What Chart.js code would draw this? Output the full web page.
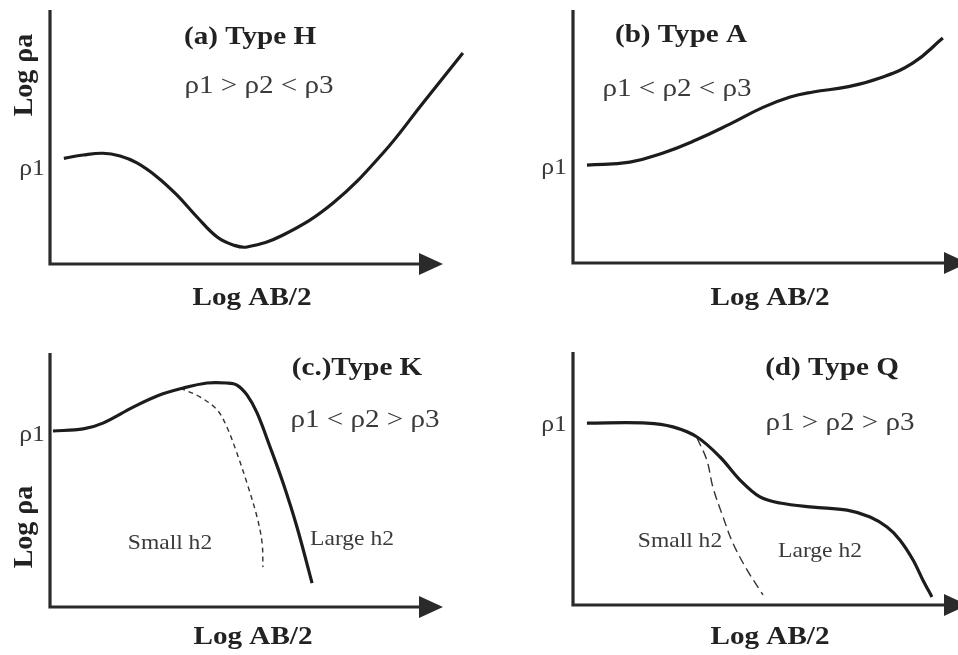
<!DOCTYPE html>
<html><head><meta charset="utf-8">
<script src="https://cdn.jsdelivr.net/npm/chart.js@4/dist/chart.umd.min.js"></script>
<style>
body{margin:0;background:#fff;width:958px;height:655px;position:relative;overflow:hidden}
canvas{position:absolute}
</style></head>
<body>
<canvas id="ca" width="479" height="327" style="left:0;top:0"></canvas>
<canvas id="cb" width="478" height="327" style="left:480px;top:0"></canvas>
<canvas id="cc" width="479" height="325" style="left:0;top:330px"></canvas>
<canvas id="cd" width="478" height="325" style="left:480px;top:330px"></canvas>
<script>
// ---- Data (arbitrary log units, 0..100 on both axes) ----
const typeH_x = [3.3, 7.9, 12.6, 16.7, 20.7, 25.5, 30.2, 35.0, 39.8, 43.6, 46.9, 55.5, 67.4, 79.3, 88.8, 98.3];
const typeH_y = [41.6, 42.9, 43.6, 42.5, 39.8, 34.3, 27.2, 18.5, 10.6, 7.5, 6.7, 11.4, 24.0, 43.7, 63.4, 83.1];

const typeA_x = [3.7, 15.1, 23.9, 32.9, 41.6, 50.4, 57.6, 63.7, 72.7, 81.4, 90.2, 98.1];
const typeA_y = [38.7, 39.9, 43.5, 48.8, 54.9, 61.5, 65.6, 67.6, 69.6, 73.1, 79.1, 88.9];

const typeK_large_x = [0.7, 7.9, 12.6, 19.8, 25.5, 31.7, 37.4, 42.1, 44.5, 46.9, 49.3, 52.4, 55.5, 58.8, 62.4];
const typeK_large_y = [69.3, 70.1, 72.4, 78.7, 83.1, 86.2, 88.2, 88.2, 87.4, 83.5, 76.4, 63.0, 48.8, 31.5, 9.4];
const typeK_small_x = [31.0, 35.7, 39.8, 42.1, 44.5, 46.9, 49.3, 50.5, 50.7];
const typeK_small_y = [86.2, 82.7, 77.6, 70.9, 60.6, 48.8, 35.4, 25.2, 15.7];

const typeQ_large_x = [3.7, 19.6, 26.5, 32.9, 39.0, 44.3, 49.6, 54.9, 63.7, 72.7, 78.8, 83.3, 86.7, 90.2, 92.8, 95.2];
const typeQ_large_y = [71.9, 71.9, 70.4, 66.4, 58.5, 49.4, 42.7, 40.3, 38.7, 37.5, 34.8, 30.8, 25.7, 17.8, 9.9, 3.2];
const typeQ_small_x = [32.9, 35.5, 37.1, 39.8, 42.4, 46.2, 50.4];
const typeQ_small_y = [66.0, 57.3, 46.6, 34.8, 24.5, 13.8, 4.0];

const titles = ['(a) Type H', '(b) Type A', '(c.)Type K', '(d) Type Q'];
const relations = ['ρ1 > ρ2 < ρ3', 'ρ1 < ρ2 < ρ3', 'ρ1 < ρ2 > ρ3', 'ρ1 > ρ2 > ρ3'];
const xTitle = 'Log AB/2';
const yTitle = 'Log ρa';
const levelLabel = 'ρ1';
const smallLabel = 'Small h2';
const largeLabel = 'Large h2';

function pts(xs, ys) { return xs.map((x, i) => ({ x: x, y: ys[i] })); }

const INK = '#222';
const GREY = '#3a3a3a';
const F = '"Liberation Serif", "Times New Roman", serif';
const SX = 1.12;

const decor = {
  id: 'decor',
  beforeDatasetsDraw(chart) {
    const o = chart.options.plugins.decor, a = chart.chartArea, ctx = chart.ctx;
    ctx.save();
    ctx.strokeStyle = '#2a2a2a'; ctx.fillStyle = '#2a2a2a';
    ctx.lineWidth = 3.2; ctx.lineJoin = 'miter';
    ctx.beginPath();
    ctx.moveTo(a.left, a.top);
    ctx.lineTo(a.left, a.bottom);
    ctx.lineTo(o.tip - 18, a.bottom);
    ctx.stroke();
    ctx.beginPath();
    ctx.moveTo(o.tip, a.bottom);
    ctx.lineTo(o.tip - 24, a.bottom - 11);
    ctx.lineTo(o.tip - 24, a.bottom + 11);
    ctx.closePath(); ctx.fill();
    ctx.restore();
  },
  afterDraw(chart) {
    const o = chart.options.plugins.decor, ctx = chart.ctx;
    o.texts.forEach(t => {
      ctx.save();
      ctx.font = t.font; ctx.fillStyle = t.color || INK;
      ctx.textAlign = t.align || 'center'; ctx.textBaseline = t.base || 'alphabetic';
      ctx.translate(t.x, t.y);
      if (t.rot) ctx.rotate(t.rot); else ctx.scale(SX, 1);
      ctx.fillText(t.t, 0, 0);
      ctx.restore();
    });
  }
};

function solid(data, tension) {
  return { data: data, showLine: true, borderColor: '#1c1c1c', borderWidth: 3.2, pointRadius: 0,
           tension: tension || 0.35, fill: false, borderCapStyle: 'butt' };
}
function dashed(data, dash) {
  return { data: data, showLine: true, borderColor: '#333', borderWidth: 1.4, borderDash: dash, pointRadius: 0,
           tension: 0.35, fill: false };
}

function makeChart(id, w, h, area, datasets, tip, texts) {
  new Chart(document.getElementById(id), {
    type: 'scatter',
    data: { datasets: datasets },
    options: {
      responsive: false, animation: false, events: [],
      layout: { padding: { left: area.l, top: area.t, right: w - area.r, bottom: h - area.b } },
      scales: {
        x: { type: 'linear', min: 0, max: 100, display: false },
        y: { type: 'linear', min: 0, max: 100, display: false }
      },
      plugins: { legend: { display: false }, tooltip: { enabled: false }, decor: { tip: tip, texts: texts } }
    },
    plugins: [decor]
  });
}

const titleFont = 'bold 26px ' + F;
const relFont = '26px ' + F;
const axFont = 'bold 26px ' + F;
const yFont = 'bold 28px ' + F;
const rhoFont = '23px ' + F;
const smallFont = '21px ' + F;

makeChart('ca', 479, 327, { l: 50, t: 10, r: 470, b: 264 }, [solid(pts(typeH_x, typeH_y), 0.4)], 443, [
  { t: titles[0], x: 250, y: 44, font: titleFont },
  { t: relations[0], x: 259, y: 93, font: relFont, color: GREY },
  { t: xTitle, x: 252, y: 305, font: axFont },
  { t: yTitle, x: 25, y: 75, font: yFont, rot: -Math.PI / 2, base: 'middle' },
  { t: levelLabel, x: 45, y: 175, font: rhoFont, align: 'right', color: GREY }
]);

makeChart('cb', 478, 327, { l: 93, t: 10, r: 470, b: 263 }, [solid(pts(typeA_x, typeA_y), 0.45)], 488, [
  { t: titles[1], x: 201, y: 42, font: titleFont },
  { t: relations[1], x: 197, y: 96, font: relFont, color: GREY },
  { t: xTitle, x: 290, y: 305, font: axFont },
  { t: levelLabel, x: 87, y: 174, font: rhoFont, align: 'right', color: GREY }
]);

makeChart('cc', 479, 325, { l: 50, t: 23, r: 470, b: 277 }, [
  solid(pts(typeK_large_x, typeK_large_y)),
  dashed(pts(typeK_small_x, typeK_small_y), [5, 4])
], 443, [
  { t: titles[2], x: 357, y: 45, font: titleFont },
  { t: relations[2], x: 365, y: 97, font: relFont, color: GREY },
  { t: smallLabel, x: 170, y: 219, font: smallFont, color: GREY },
  { t: largeLabel, x: 352, y: 215, font: smallFont, color: GREY },
  { t: xTitle, x: 253, y: 314, font: axFont },
  { t: yTitle, x: 25, y: 197, font: yFont, rot: -Math.PI / 2, base: 'middle' },
  { t: levelLabel, x: 45, y: 111, font: rhoFont, align: 'right', color: GREY }
]);

makeChart('cd', 478, 325, { l: 93, t: 22, r: 470, b: 275 }, [
  solid(pts(typeQ_large_x, typeQ_large_y)),
  dashed(pts(typeQ_small_x, typeQ_small_y), [9, 5])
], 488, [
  { t: titles[3], x: 352, y: 45, font: titleFont },
  { t: relations[3], x: 360, y: 100, font: relFont, color: GREY },
  { t: smallLabel, x: 200, y: 217, font: smallFont, color: GREY },
  { t: largeLabel, x: 340, y: 227, font: smallFont, color: GREY },
  { t: xTitle, x: 290, y: 314, font: axFont },
  { t: levelLabel, x: 87, y: 101, font: rhoFont, align: 'right', color: GREY }
]);
</script>
</body></html>
